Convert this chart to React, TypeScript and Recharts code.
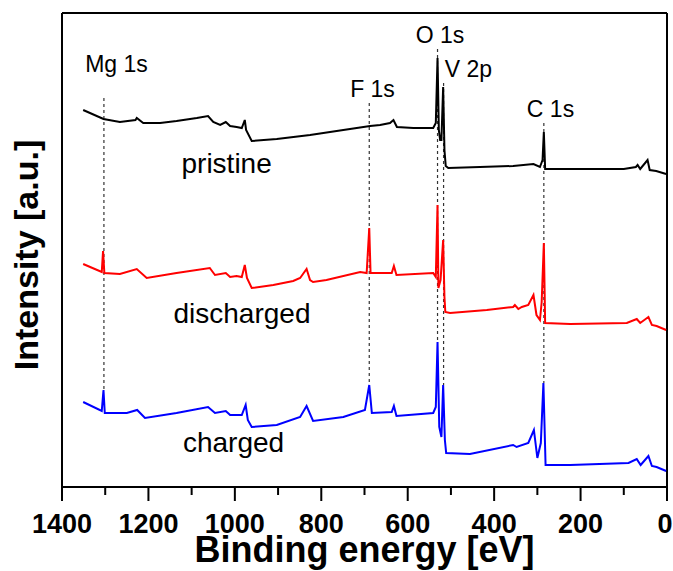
import React from 'react';
import { LineChart, Line, XAxis, YAxis, ReferenceLine, ReferenceDot } from 'recharts';

// Binding energy (eV) and intensity (a.u., offset spectra)
const pristineE = [1351, 1304, 1266, 1230, 1227, 1212, 1173, 1135, 1088, 1062, 1050, 1034, 1021, 1011, 996, 984, 977, 974, 961, 903, 826, 749, 687, 664, 641, 633, 625, 587, 541, 535, 531, 528, 525, 522, 518, 515, 512, 506, 433, 356, 309, 294, 288, 285, 282, 201, 100, 72, 68, 62, 45, 40, 25, 2];
const pristineI = [377, 368, 365, 367, 369, 364, 364, 366, 369, 371, 365, 362, 365, 361, 360, 359, 367, 357, 346, 348, 352, 357, 361, 362, 364, 367, 360, 359, 359, 364, 429, 357, 347, 347, 400, 337, 321, 319, 320, 321, 323, 320, 327, 355, 318, 318, 318, 320, 322, 318, 327, 317, 316, 313];

const dischargedE = [1351, 1308, 1305, 1302, 1266, 1227, 1204, 1135, 1058, 1046, 1021, 1011, 996, 984, 977, 972, 961, 911, 865, 849, 834, 826, 819, 788, 710, 695, 689, 686, 637, 632, 626, 541, 535, 531, 529, 524, 518, 515, 513, 502, 417, 356, 352, 344, 336, 321, 309, 302, 294, 290, 285, 282, 224, 93, 70, 62, 43, 35, 24, 2];
const dischargedI = [223, 215, 236, 214, 213, 218, 209, 214, 219, 212, 214, 210, 211, 210, 222, 209, 199, 202, 206, 209, 218, 207, 205, 207, 215, 214, 259, 214, 214, 221, 212, 214, 210, 282, 199, 207, 247, 190, 175, 174, 177, 180, 182, 178, 180, 182, 192, 172, 167, 185, 244, 164, 163, 164, 168, 164, 170, 162, 161, 157];

const chargedE = [1351, 1308, 1304, 1301, 1250, 1226, 1208, 1135, 1062, 1046, 1021, 1011, 984, 975, 970, 961, 903, 849, 834, 819, 749, 699, 689, 683, 637, 632, 626, 541, 535, 531, 527, 522, 518, 514, 511, 456, 356, 348, 321, 308, 300, 292, 286, 281, 224, 89, 70, 61, 43, 35, 24, 2];
const chargedI = [85, 76, 97, 74, 74, 77, 69, 74, 80, 74, 76, 72, 72, 82, 67, 60, 62, 70, 81, 66, 70, 77, 102, 74, 75, 81, 71, 74, 80, 145, 60, 50, 102, 47, 34, 33, 42, 40, 44, 57, 29, 44, 104, 22, 22, 24, 28, 22, 31, 21, 20, 16];

const xTicks = [0, 100, 200, 300, 400, 500, 600, 700, 800, 900, 1000, 1100, 1200, 1300, 1400];
const X_DOMAIN = [0, 1400];
const Y_DOMAIN = [0, 474];

// Peak assignments and their dashed guide lines
const peakNames = ['Mg 1s', 'F 1s', 'O 1s', 'V 2p', 'C 1s'];
const peakEnergies = [1303, 689, 531, 517, 285];
const peakLineTop = [389, 384, 438, 404, 364];
const peakLineBottom = [97, 102, 145, 102, 104];
const peakLabelE = [1274, 681.5, 525.3, 459.3, 269.6];
const peakLabelI = [415, 390, 444, 410, 370];

const seriesNames = ['pristine', 'discharged', 'charged'];
const seriesColors = ['#000000', '#ff0000', '#0000ff'];
const seriesLabelE = [1019, 983.5, 1003];
const seriesLabelI = [314, 164, 35];

const toPoints = (e: number[], i: number[]) => e.map((x, k) => ({ e: x, i: i[k] }));
const seriesData = [toPoints(pristineE, pristineI), toPoints(dischargedE, dischargedI), toPoints(chargedE, chargedI)];

const FONT = "Arial, 'Liberation Sans', sans-serif";

const XTick = (props: any) => {
  const { x, y, payload } = props;
  const v = payload.value;
  const major = v % 200 === 0;
  const tx = v === 0 ? x - 2 : x;
  return (
    <g>
      <line x1={x} y1={y} x2={x} y2={y + (major ? 14 : 8)} stroke="#000" strokeWidth={2} />
      {major && (
        <text x={tx} y={y + 46} textAnchor="middle" fontSize={27} fontWeight="bold" fill="#000" fontFamily={FONT}>
          {v}
        </text>
      )}
    </g>
  );
};

const XLabel = (props: any) => {
  const vb = props.viewBox;
  return (
    <text x={vb.x + vb.width / 2} y={vb.y + 75} textAnchor="middle" fontSize={36} fontWeight="bold" fill="#000" fontFamily={FONT}>
      Binding energy [eV]
    </text>
  );
};

const YLabel = (props: any) => {
  const vb = props.viewBox;
  const cx = vb.x + 38;
  const cy = vb.y + 242;
  return (
    <text x={cx} y={cy} transform={`rotate(-90, ${cx}, ${cy})`} textAnchor="middle" fontSize={34} fontWeight="bold" fill="#000" fontFamily={FONT}>
      Intensity [a.u.]
    </text>
  );
};

const makeText = (label: string, size: number) => (p: any) => (
  <text x={p.cx} y={p.cy} textAnchor="middle" fontSize={size} fill="#000" fontFamily={FONT}>
    {label}
  </text>
);

export default function App() {
  return (
    <div style={{ position: 'absolute', left: 0, top: 0, background: '#fff' }}>
      <LineChart width={673} height={571} margin={{ top: 13, right: 6, left: 0, bottom: 0 }}>
        <XAxis
          dataKey="e"
          type="number"
          domain={X_DOMAIN}
          reversed
          ticks={xTicks}
          interval={0}
          allowDataOverflow
          height={84}
          tickSize={0}
          tickMargin={0}
          tickLine={false}
          axisLine={{ stroke: '#000', strokeWidth: 2 }}
          tick={<XTick />}
          label={<XLabel />}
        />
        <YAxis
          type="number"
          domain={Y_DOMAIN}
          allowDataOverflow
          width={62}
          tick={false}
          tickLine={false}
          axisLine={{ stroke: '#000', strokeWidth: 2 }}
          label={<YLabel />}
        />
        {/* frame: top and right borders */}
        <ReferenceLine y={Y_DOMAIN[1]} stroke="#000" strokeWidth={2} />
        <ReferenceLine x={X_DOMAIN[0]} stroke="#000" strokeWidth={2} />
        {peakEnergies.map((e, k) => (
          <ReferenceLine
            key={'pl' + k}
            segment={[{ x: e, y: peakLineTop[k] }, { x: e, y: peakLineBottom[k] }]}
            stroke="#333"
            strokeWidth={1.2}
            strokeDasharray="3 3"
          />
        ))}
        {seriesData.map((d, k) => (
          <Line
            key={seriesNames[k]}
            data={d}
            dataKey="i"
            type="linear"
            stroke={seriesColors[k]}
            strokeWidth={2}
            dot={false}
            isAnimationActive={false}
          />
        ))}
        {peakNames.map((n, k) => (
          <ReferenceDot key={'pn' + k} x={peakLabelE[k]} y={peakLabelI[k]} r={0} shape={makeText(n, 23)} />
        ))}
        {seriesNames.map((n, k) => (
          <ReferenceDot key={'sn' + k} x={seriesLabelE[k]} y={seriesLabelI[k]} r={0} shape={makeText(n, 28)} />
        ))}
      </LineChart>
    </div>
  );
}
